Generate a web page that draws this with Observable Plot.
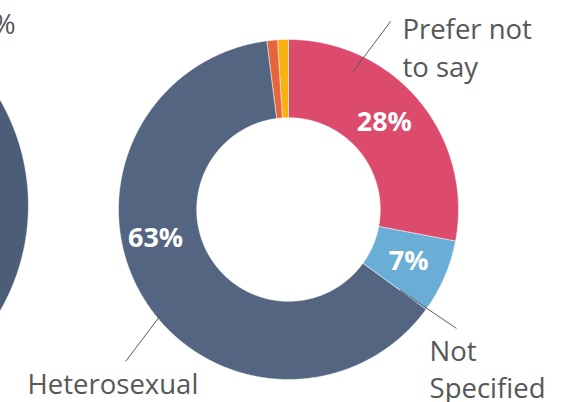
<!DOCTYPE html>
<html><head><meta charset="utf-8">
<script src="https://cdn.jsdelivr.net/npm/d3@7"></script>
<script src="https://cdn.jsdelivr.net/npm/@observablehq/plot@0.6"></script>
<style>body{margin:0;background:#fff}#chart svg{display:block}</style>
</head><body><div id="chart"></div>
<script>
// ---- data (right donut) ----
const categories = ["Prefer not to say", "Not Specified", "Heterosexual", "Bisexual", "Gay or Lesbian"];
const values = [28, 7, 63, 1, 1];
const colors = ["#dc4a6c", "#6aaed6", "#536580", "#e8643a", "#f9b10f"];
const valueLabels = ["28%", "7%", "63%", "", ""];
const calloutLabels = ["Prefer not\nto say", "Not\nSpecified", "Heterosexual", "", ""];
// ---- data (neighbouring donut, only partly visible at left edge) ----
const leftCategories = ["Heterosexual"];
const leftValues = [100];
const leftColors = ["#4b5d77"];
const leftCallout = "%";

// ---- layout (data units: 1 = outer radius of the right donut) ----
const W = 574, H = 402, Rpx = 170, cxPx = 288, cyPx = 209;
const layout = {
  inner: 0.54,
  valueRadius: 0.77,
  valuePlacement: {"Prefer not to say": {f: 0.133, r: 0.76}, "Heterosexual": {f: 0.716, r: 0.80}},
  left: {cx: -2.77, cy: 0.024, r: 1.24},
  leaders: {
    "Prefer not to say": {a0: 25, r0: 0.89, a1: 28.5, r1: 1.26},
    "Not Specified": {a0: 125.9, r0: 0.81, a1: 125.3, r1: 1.21},
    "Heterosexual": {a0: 230.8, r0: 0.95, a1: 227, r1: 1.31}
  },
  callouts: {
    "Prefer not to say": {x: 0.67, y: 1.158},
    "Not Specified": {x: 0.83, y: -0.732},
    "Heterosexual": {x: -1.535, y: -0.928}
  },
  leftCallout: {x: -1.605, y: 1.15}
};

const right = categories.map((c, i) => ({key: "R:" + c, category: c, value: values[i], color: colors[i], label: valueLabels[i], callout: calloutLabels[i]}));
const left = leftCategories.map((c, i) => ({key: "L:" + c, category: c, value: leftValues[i], color: leftColors[i]}));

const pie = d3.pie().sort(null).value(d => d.value);
function ring(data, cx, cy, r0, r1) {
  const pts = [];
  for (const a of pie(data)) {
    const n = Math.max(2, Math.ceil((a.endAngle - a.startAngle) / (Math.PI / 360)));
    for (let k = 0; k <= n; k++) {
      const t = a.startAngle + (a.endAngle - a.startAngle) * k / n;
      pts.push({key: a.data.key, x: cx + r1 * Math.sin(t), y: cy + r1 * Math.cos(t)});
    }
    for (let k = n; k >= 0; k--) {
      const t = a.startAngle + (a.endAngle - a.startAngle) * k / n;
      pts.push({key: a.data.key, x: cx + r0 * Math.sin(t), y: cy + r0 * Math.cos(t)});
    }
  }
  return pts;
}
const polar = (deg, r) => ({x: r * Math.sin(deg * Math.PI / 180), y: r * Math.cos(deg * Math.PI / 180)});

const slices = [...ring(left, layout.left.cx, layout.left.cy, 0, layout.left.r), ...ring(right, 0, 0, layout.inner, 1)];

const arcs = pie(right);
const valueText = arcs.filter(a => a.data.label).map(a => {
  const p = layout.valuePlacement[a.data.category];
  const ang = p ? p.f * 2 * Math.PI : (a.startAngle + a.endAngle) / 2;
  const r = p ? p.r : layout.valueRadius;
  return {text: a.data.label, x: r * Math.sin(ang), y: r * Math.cos(ang)};
});
const leaders = right.filter(d => layout.leaders[d.category]).map(d => {
  const L = layout.leaders[d.category];
  const p0 = polar(L.a0, L.r0), p1 = polar(L.a1, L.r1);
  return {x1: p0.x, y1: p0.y, x2: p1.x, y2: p1.y};
});
const callouts = right.filter(d => d.callout).map(d => ({text: d.callout, ...layout.callouts[d.category]}));

const font = "'Open Sans', 'Noto Sans', sans-serif";
const chart = Plot.plot({
  width: W, height: H, margin: 0,
  style: {background: "white", fontFamily: font},
  x: {domain: [-cxPx / Rpx, (W - cxPx) / Rpx], axis: null},
  y: {domain: [-(H - cyPx) / Rpx, cyPx / Rpx], axis: null},
  color: {domain: [...left, ...right].map(d => d.key), range: [...left, ...right].map(d => d.color)},
  marks: [
    Plot.line(slices, {x: "x", y: "y", z: "key", fill: "key", stroke: "white", strokeWidth: 0.5, curve: "linear-closed"}),
    Plot.link(leaders, {x1: "x1", y1: "y1", x2: "x2", y2: "y2", stroke: "#5a5a5a", strokeWidth: 1}),
    Plot.text(valueText, {x: "x", y: "y", text: "text", fill: "white", fontWeight: "bold", fontSize: 27, fontFamily: font, textAnchor: "middle", lineAnchor: "middle"}),
    Plot.text(callouts, {x: "x", y: "y", text: "text", fill: "#575757", fontSize: 27.5, fontFamily: font, textAnchor: "start", lineAnchor: "top", lineHeight: 1.37}),
    Plot.text([{text: leftCallout, ...layout.leftCallout}], {x: "x", y: "y", text: "text", fill: "#575757", fontSize: 28, fontFamily: font, textAnchor: "end", lineAnchor: "top"})
  ]
});
document.getElementById("chart").append(chart);
</script>
</body></html>
